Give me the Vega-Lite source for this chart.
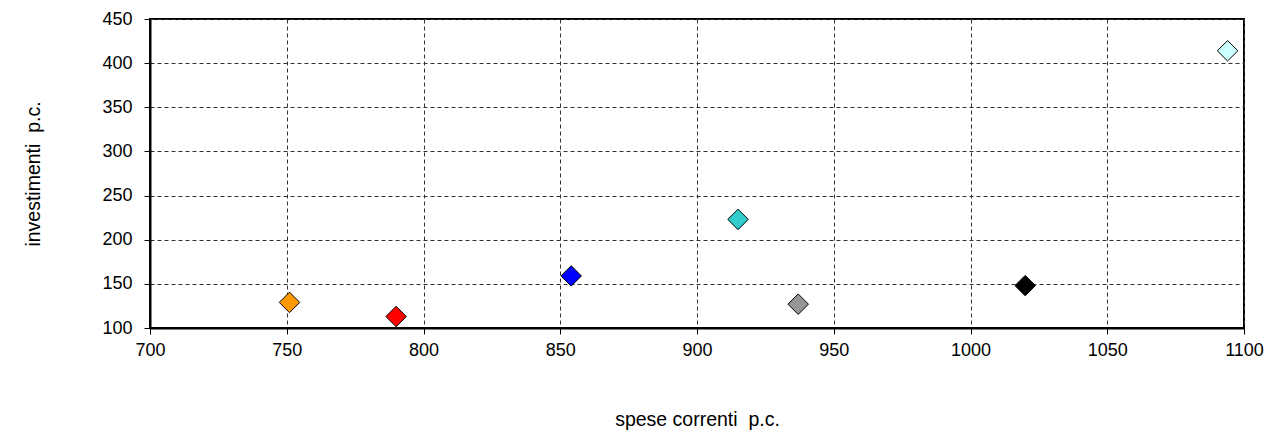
{
  "$schema": "https://vega.github.io/schema/vega-lite/v6.json",
  "width": 1094,
  "height": 309,
  "autosize": {"type": "none"},
  "padding": {"left": 150, "top": 19, "right": 31, "bottom": 112},
  "background": "white",
  "config": {
    "font": "Liberation Sans",
    "view": {"stroke": "black", "strokeWidth": 2}
  },
  "data": {
    "values": [
      {"serie": "A", "spese": 751, "investimenti": 129},
      {"serie": "B", "spese": 790, "investimenti": 113},
      {"serie": "C", "spese": 854, "investimenti": 159},
      {"serie": "D", "spese": 915, "investimenti": 223},
      {"serie": "E", "spese": 937, "investimenti": 127},
      {"serie": "F", "spese": 1020, "investimenti": 148},
      {"serie": "G", "spese": 1094, "investimenti": 414}
    ]
  },
  "mark": {"type": "point", "shape": "diamond", "filled": true, "size": 420, "stroke": "black", "strokeWidth": 1, "opacity": 1},
  "encoding": {
    "x": {
      "field": "spese", "type": "quantitative",
      "scale": {"domain": [700, 1100], "nice": false, "zero": false},
      "axis": {
        "title": "spese correnti \u00a0p.c.",
        "format": "d",
        "values": [700, 750, 800, 850, 900, 950, 1000, 1050, 1100],
        "labelFlush": false,
        "grid": true, "gridColor": "#333333", "gridDash": [4, 3], "gridWidth": 1, "gridOpacity": 1,
        "domainColor": "black", "domainWidth": 2,
        "tickColor": "black", "tickSize": 6, "tickWidth": 1,
        "labelFont": "Liberation Sans", "labelFontSize": 18, "labelColor": "black", "labelPadding": 7,
        "titleFont": "Liberation Sans", "titleFontSize": 19.5, "titleFontWeight": "normal", "titleColor": "black",
        "titleY": 91, "titleBaseline": "middle"
      }
    },
    "y": {
      "field": "investimenti", "type": "quantitative",
      "scale": {"domain": [100, 450], "nice": false, "zero": false},
      "axis": {
        "title": "investimenti \u00a0p.c.",
        "format": "d",
        "values": [100, 150, 200, 250, 300, 350, 400, 450],
        "labelFlush": false,
        "grid": true, "gridColor": "#333333", "gridDash": [4, 3], "gridWidth": 1, "gridOpacity": 1,
        "domainColor": "black", "domainWidth": 2,
        "tickColor": "black", "tickSize": 6, "tickWidth": 1,
        "labelFont": "Liberation Sans", "labelFontSize": 18, "labelColor": "black", "labelPadding": 12,
        "titleFont": "Liberation Sans", "titleFontSize": 19.5, "titleFontWeight": "normal", "titleColor": "black",
        "titleX": -117, "titleBaseline": "middle"
      }
    },
    "color": {
      "field": "serie", "type": "nominal",
      "scale": {
        "domain": ["A", "B", "C", "D", "E", "F", "G"],
        "range": ["#FF9900", "#FF0000", "#0000FF", "#33CCCC", "#969696", "#000000", "#CCFFFF"]
      },
      "legend": null
    }
  }
}
